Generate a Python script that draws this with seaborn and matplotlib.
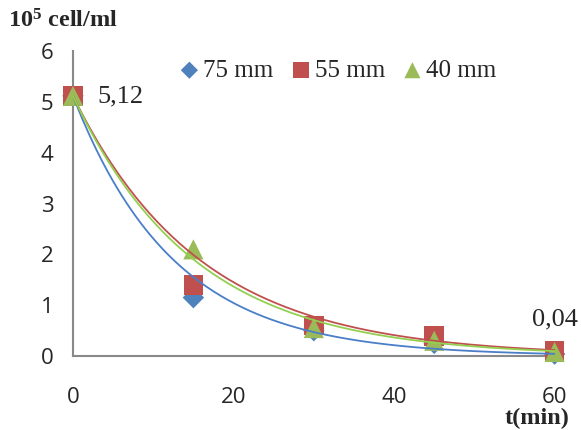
import numpy as np
import pandas as pd
import matplotlib
matplotlib.use("Agg")
import matplotlib.pyplot as plt
import seaborn as sns

# ---- data ----
times = [0, 15, 30, 45, 60]
series_names = ["75 mm", "55 mm", "40 mm"]
vals_75 = [5.12, 1.15, 0.50, 0.25, 0.04]
vals_55 = [5.12, 1.40, 0.60, 0.40, 0.10]
vals_40 = [5.12, 2.10, 0.55, 0.30, 0.08]
# exponential trendline parameters y = a * exp(-k t)
trend_a = [5.12, 5.12, 5.12]
trend_k = [0.0795, 0.0630, 0.0660]
x_ticks = [0, 20, 40, 60]
y_ticks = [0, 1, 2, 3, 4, 5, 6]

colors = {"75 mm": "#4F81BD", "55 mm": "#C0504D", "40 mm": "#9BBB59"}
line_colors = {"75 mm": "#4A7EC8", "55 mm": "#C0504D", "40 mm": "#92D050"}
markers = {"75 mm": "D", "55 mm": "s", "40 mm": "^"}
msizes = {"75 mm": 120, "55 mm": 200, "40 mm": 210}

df = pd.DataFrame({
    "t": times * 3,
    "v": vals_75 + vals_55 + vals_40,
    "s": sum([[n] * len(times) for n in series_names], []),
})

sns.set_style("white")
plt.rcParams["mathtext.fontset"] = "custom"
plt.rcParams["mathtext.rm"] = "Liberation Serif"
plt.rcParams["mathtext.bf"] = "Liberation Serif:bold"

fig = plt.figure(figsize=(5.81, 4.30), dpi=100)
ax = fig.add_axes([0.1256, 0.172, 0.829, 0.709])

for n in series_names:
    sub = df[df.s == n]
    sns.scatterplot(data=sub, x="t", y="v", marker=markers[n], s=msizes[n],
                    color=colors[n], edgecolor="none", ax=ax, label=n, zorder=3,
                    clip_on=False)

tt = np.linspace(0, 60, 200)
for n, a, k in zip(series_names, trend_a, trend_k):
    tr = pd.DataFrame({"t": tt, "v": a * np.exp(-k * tt)})
    sns.lineplot(data=tr, x="t", y="v", color=line_colors[n], lw=1.3, ax=ax,
                 zorder=4, legend=False)

ax.set_xlim(0, 60)
ax.set_ylim(0, 6)
ax.set_xticks(x_ticks)
ax.set_yticks(y_ticks)
ax.set_xlabel("")
ax.set_ylabel("")
for sp in ["top", "right"]:
    ax.spines[sp].set_visible(False)
for sp in ["left", "bottom"]:
    ax.spines[sp].set_color("#898989")
    ax.spines[sp].set_linewidth(1.5)
ax.tick_params(axis="both", direction="out", length=6, width=1.5, color="#898989")
ax.tick_params(axis="y", pad=8)
ax.tick_params(axis="x", pad=16)
for lab in ax.get_xticklabels() + ax.get_yticklabels():
    lab.set_fontfamily("Open Sans")
    lab.set_fontsize(16)

fig.legend(*ax.get_legend_handles_labels(), loc="center left",
           bbox_to_anchor=(0.298, 0.836), ncol=3, frameon=False,
           prop={"family": "Liberation Serif", "size": 18}, handletextpad=-0.1,
           columnspacing=0.45, handlelength=1.3, borderaxespad=0, borderpad=0,
           markerscale=0.8)
ax.get_legend().remove()

ax.text(3.0, 5.1, "5,12", fontsize=19, family="Liberation Serif", va="center", ha="left")
ax.text(60, 0.5, "0,04", fontsize=19, family="Liberation Serif", va="bottom", ha="center")

fig.text(0.014, 0.952, r"$\mathbf{10^5}$ cell/ml", fontsize=17.5, family="Liberation Serif",
         fontweight="bold", va="center", ha="left")
fig.text(0.980, 0.028, "t(min)", fontsize=17.5, family="Liberation Serif",
         fontweight="bold", va="center", ha="right")

fig.savefig("out.png", dpi=100)
